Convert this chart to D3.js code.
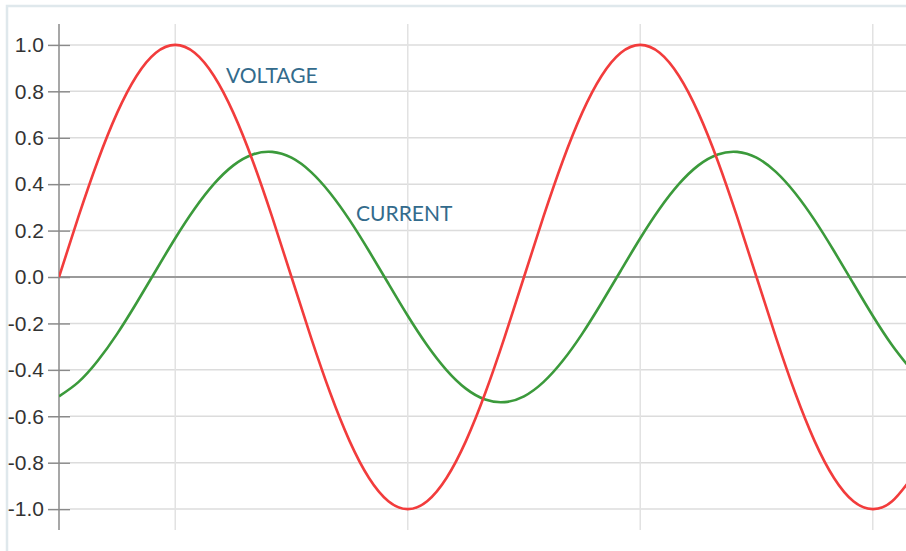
<!DOCTYPE html>
<html>
<head>
<meta charset="utf-8">
<script src="https://cdn.jsdelivr.net/npm/d3@7"></script>
<style>
  html, body { margin: 0; padding: 0; background: #fff; }
  svg { display: block; }
</style>
</head>
<body>
<svg id="chart" width="906" height="551"></svg>
<script>
// phase angle (degrees) at which the curves were sampled
const phase = [0,15,30,45,60,75,90,105,120,135,150,165,180,195,210,225,240,255,270,285,300,315,330,345,
               360,375,390,405,420,435,450,465,480,495,510,525,540,555,570,585,600,615,630,645,660];
const voltage = [0,0.259,0.5,0.707,0.866,0.966,1.0,0.966,0.866,0.707,0.5,0.259,0,-0.259,-0.5,-0.707,-0.866,-0.966,-1.0,-0.966,-0.866,-0.707,-0.5,-0.259,
                 0,0.259,0.5,0.707,0.866,0.966,1.0,0.966,0.866,0.707,0.5,0.259,0,-0.259,-0.5,-0.707,-0.866,-0.966,-1.0,-0.966,-0.866];
const current = [-0.514,-0.453,-0.361,-0.245,-0.112,0.028,0.167,0.294,0.401,0.481,0.528,0.539,0.514,0.453,0.361,0.245,0.112,-0.028,-0.167,-0.294,-0.401,-0.481,-0.528,-0.539,
                 -0.514,-0.453,-0.361,-0.245,-0.112,0.028,0.167,0.294,0.401,0.481,0.528,0.539,0.514,0.453,0.361,0.245,0.112,-0.028,-0.167,-0.294,-0.401];
const yTicks = [1.0,0.8,0.6,0.4,0.2,0.0,-0.2,-0.4,-0.6,-0.8,-1.0];
const xGrid = [90,270,450,630];
const seriesLabels = ["VOLTAGE","CURRENT"];

const W = 906, H = 551;
const svg = d3.select("#chart");

const x = d3.scaleLinear().domain([0, 360]).range([59, 524]);
const y = d3.scaleLinear().domain([-1.09, 1.09]).range([530, 24]);

// frame
svg.append("path")
  .attr("d", `M7,${H} L7,6 L${W},6`)
  .attr("fill", "none").attr("stroke", "#dfe8ec").attr("stroke-width", 2.5);

// horizontal grid
svg.append("g").selectAll("line").data(yTicks.filter(d => d !== 0)).join("line")
  .attr("x1", 70).attr("x2", W)
  .attr("y1", d => y(d)).attr("y2", d => y(d))
  .attr("stroke", "#dcdcdc").attr("stroke-width", 1.5);

// vertical grid
svg.append("g").selectAll("line").data(xGrid).join("line")
  .attr("x1", d => x(d)).attr("x2", d => x(d))
  .attr("y1", y.range()[1]).attr("y2", y.range()[0])
  .attr("stroke", "#e2e2e2").attr("stroke-width", 1.5);

// zero line
svg.append("line")
  .attr("x1", 59).attr("x2", W)
  .attr("y1", y(0)).attr("y2", y(0))
  .attr("stroke", "#9a9a9a").attr("stroke-width", 2);

// y axis
const yAxis = d3.axisLeft(y).tickValues(yTicks).tickFormat(d3.format(".1f"))
  .tickSizeInner(11).tickSizeOuter(0).tickPadding(5);
const gy = svg.append("g").attr("transform", "translate(59,0)").call(yAxis);
gy.select(".domain").attr("stroke", "#8a8a8a").attr("stroke-width", 1.5)
  .attr("d", `M0,${y.range()[1]}V${y.range()[0]}`);
gy.selectAll(".tick line").attr("stroke", "#8a8a8a").attr("stroke-width", 1.5)
  .attr("x1", 11).attr("x2", -11);
gy.selectAll(".tick text")
  .attr("x", -15)
  .attr("font-family", "Liberation Sans, Arial, sans-serif")
  .attr("font-size", 21).attr("fill", "#333")
  .text(d => d3.format(".1f")(d).replace("−", "-"));

// clip
svg.append("clipPath").attr("id", "clip").append("rect")
  .attr("x", 59).attr("y", 0).attr("width", W - 59).attr("height", H);

const line = d3.line().curve(d3.curveNatural)
  .x((d, i) => x(phase[i])).y(d => y(d));

const plot = svg.append("g").attr("clip-path", "url(#clip)");
plot.append("path").datum(current)
  .attr("d", line).attr("fill", "none")
  .attr("stroke", "#3b9a3b").attr("stroke-width", 2.6);
plot.append("path").datum(voltage)
  .attr("d", line).attr("fill", "none")
  .attr("stroke", "#f23c3c").attr("stroke-width", 2.6);

// labels
svg.append("text").attr("x", 226).attr("y", 83).text(seriesLabels[0])
  .attr("font-family", "Lato, sans-serif").attr("font-size", 21).attr("fill", "#336b8c");
svg.append("text").attr("x", 356).attr("y", 221).text(seriesLabels[1])
  .attr("font-family", "Lato, sans-serif").attr("font-size", 21).attr("fill", "#336b8c");
</script>
</body>
</html>
